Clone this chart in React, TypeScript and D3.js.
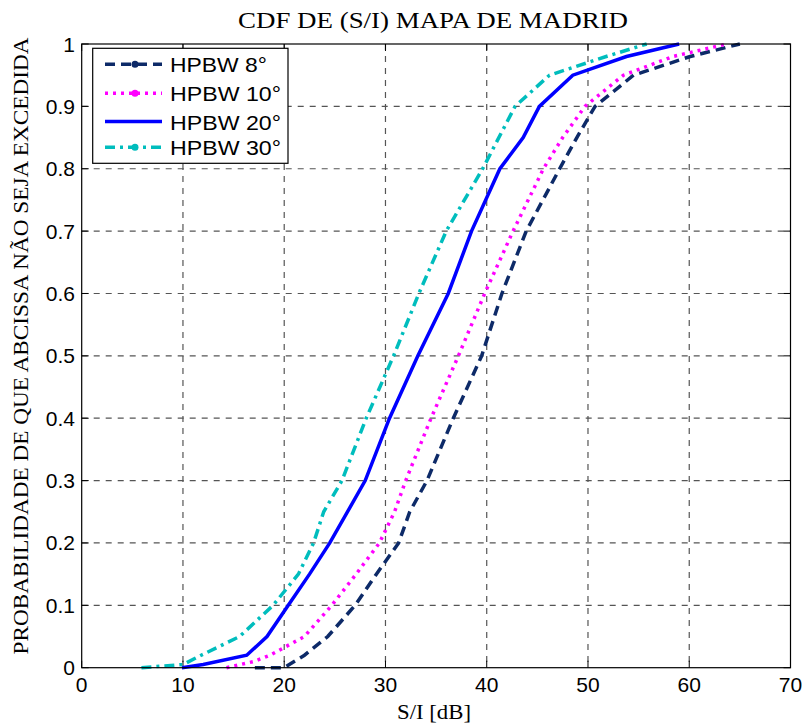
import React from "react";
import * as d3 from "d3";

const seriesNames = ["HPBW 8°", "HPBW 10°", "HPBW 20°", "HPBW 30°"];

const hpbw8X = [17.1, 20.0, 22.0, 24.3, 27.0, 29.1, 31.3, 32.4, 34.1, 36.7, 39.5, 41.5, 43.9, 47.2, 48.9, 50.7, 54.5, 60.1, 65.0];
const hpbw8Y = [0, 0, 0.02, 0.05, 0.1, 0.15, 0.2, 0.25, 0.3, 0.4, 0.5, 0.6, 0.7, 0.8, 0.85, 0.9, 0.95, 0.98, 1];

const hpbw10X = [14.3, 17.0, 18.6, 22.0, 24.7, 27.1, 29.4, 30.9, 32.0, 34.5, 37.2, 39.8, 42.6, 45.6, 47.5, 49.7, 53.5, 58.4, 63.7];
const hpbw10Y = [0, 0.01, 0.02, 0.05, 0.1, 0.15, 0.2, 0.25, 0.3, 0.4, 0.5, 0.6, 0.7, 0.8, 0.85, 0.9, 0.95, 0.98, 1];

const hpbw20X = [9.9, 12.0, 16.3, 18.3, 20.4, 22.5, 24.5, 28.0, 30.4, 33.2, 36.2, 38.5, 41.3, 43.6, 45.2, 48.5, 53.8, 59.0];
const hpbw20Y = [0, 0.005, 0.02, 0.05, 0.1, 0.15, 0.2, 0.3, 0.4, 0.5, 0.6, 0.7, 0.8, 0.85, 0.9, 0.95, 0.98, 1];

const hpbw30X = [5.9, 10.0, 11.8, 15.6, 18.9, 21.4, 22.9, 23.9, 25.7, 28.1, 30.8, 33.3, 36.0, 39.6, 42.8, 46.2, 51.8, 55.8];
const hpbw30Y = [0, 0.005, 0.02, 0.05, 0.1, 0.15, 0.2, 0.25, 0.3, 0.4, 0.5, 0.6, 0.7, 0.8, 0.9, 0.95, 0.98, 1];

const xTicks = [0, 10, 20, 30, 40, 50, 60, 70];
const yTicks = [0, 0.1, 0.2, 0.3, 0.4, 0.5, 0.6, 0.7, 0.8, 0.9, 1];
const yTickLabels = ["0", "0.1", "0.2", "0.3", "0.4", "0.5", "0.6", "0.7", "0.8", "0.9", "1"];

const colors = ["#0d2a68", "#ff00ff", "#0000ff", "#00bdbd"];
const dashes = ["10 6", "3 5", "none", "10 5 3 5"];
const hasMarker = [true, true, false, true];

const W = 803;
const H = 724;
const left = 81.7;
const right = 790.5;
const top = 44;
const bottom = 667.7;

export default function App() {
  const x = d3.scaleLinear().domain([0, 70]).range([left, right]);
  const y = d3.scaleLinear().domain([0, 1]).range([bottom, top]);
  const line = d3
    .line<[number, number]>()
    .x((d) => x(d[0]))
    .y((d) => y(d[1]));

  const series: [number, number][][] = [
    hpbw8X.map((v, i) => [v, hpbw8Y[i]] as [number, number]),
    hpbw10X.map((v, i) => [v, hpbw10Y[i]] as [number, number]),
    hpbw20X.map((v, i) => [v, hpbw20Y[i]] as [number, number]),
    hpbw30X.map((v, i) => [v, hpbw30Y[i]] as [number, number]),
  ];

  const sans = "Liberation Sans, Arial, sans-serif";
  const serif = "Liberation Serif, Times New Roman, serif";

  const legX = 92.7;
  const legY = 48.3;
  const legW = 195.3;
  const legH = 115;
  const legRows = [64.3, 93.3, 121.5, 147.3];
  const legTextW = [97, 111, 111, 111];

  return (
    <svg width={W} height={H} style={{ position: "absolute", left: 0, top: 0 }}>
      <rect x={0} y={0} width={W} height={H} fill="#fff" />
      {/* grid */}
      {xTicks.slice(1, -1).map((t) => (
        <line key={"gx" + t} x1={x(t)} x2={x(t)} y1={top} y2={bottom} stroke="#555" strokeWidth={1.2} strokeDasharray="6 6" />
      ))}
      {yTicks.slice(1, -1).map((t) => (
        <line key={"gy" + t} x1={left} x2={right} y1={y(t)} y2={y(t)} stroke="#555" strokeWidth={1.2} strokeDasharray="6 6" />
      ))}
      {/* ticks */}
      {xTicks.map((t) => (
        <g key={"tx" + t}>
          <line x1={x(t)} x2={x(t)} y1={bottom} y2={bottom - 7} stroke="#000" />
          <line x1={x(t)} x2={x(t)} y1={top} y2={top + 7} stroke="#000" />
          <text x={x(t)} y={692} textAnchor="middle" fontFamily={sans} fontSize={21}>
            {t}
          </text>
        </g>
      ))}
      {yTicks.map((t, i) => (
        <g key={"ty" + t}>
          <line x1={left} x2={left + 7} y1={y(t)} y2={y(t)} stroke="#000" />
          <line x1={right} x2={right - 7} y1={y(t)} y2={y(t)} stroke="#000" />
          <text x={75} y={y(t) + 7.5} textAnchor="end" fontFamily={sans} fontSize={21}>
            {yTickLabels[i]}
          </text>
        </g>
      ))}
      {/* data */}
      {series.map((s, i) => (
        <path
          key={"s" + i}
          d={line(s) || ""}
          fill="none"
          stroke={colors[i]}
          strokeWidth={3.5}
          strokeDasharray={dashes[i]}
        />
      ))}
      {/* axes box */}
      <rect x={left} y={top} width={right - left} height={bottom - top} fill="none" stroke="#000" strokeWidth={1.2} />
      {/* legend */}
      <rect x={legX} y={legY} width={legW} height={legH} fill="#fff" stroke="#000" strokeWidth={1.2} />
      {seriesNames.map((n, i) => (
        <g key={"l" + i}>
          <line x1={105} x2={162} y1={legRows[i]} y2={legRows[i]} stroke={colors[i]} strokeWidth={3.5} strokeDasharray={dashes[i]} />
          {hasMarker[i] && <circle cx={135} cy={legRows[i]} r={3.5} fill={colors[i]} />}
          <text
            x={170}
            y={legRows[i] + 8}
            fontFamily={sans}
            fontSize={21}
            textLength={legTextW[i]}
            lengthAdjust="spacingAndGlyphs"
          >
            {n}
          </text>
        </g>
      ))}
      {/* titles */}
      <text
        x={433}
        y={28}
        textAnchor="middle"
        fontFamily={serif}
        fontSize={23}
        textLength={390}
        lengthAdjust="spacingAndGlyphs"
      >
        CDF DE (S/I) MAPA DE MADRID
      </text>
      <text
        x={434}
        y={719}
        textAnchor="middle"
        fontFamily={serif}
        fontSize={22}
        textLength={74}
        lengthAdjust="spacingAndGlyphs"
      >
        S/I [dB]
      </text>
      <text
        transform={`translate(28, 346) rotate(-90)`}
        textAnchor="middle"
        fontFamily={serif}
        fontSize={22}
        textLength={617}
        lengthAdjust="spacingAndGlyphs"
      >
        PROBABILIDADE DE QUE ABCISSA NÃO SEJA EXCEDIDA
      </text>
    </svg>
  );
}
